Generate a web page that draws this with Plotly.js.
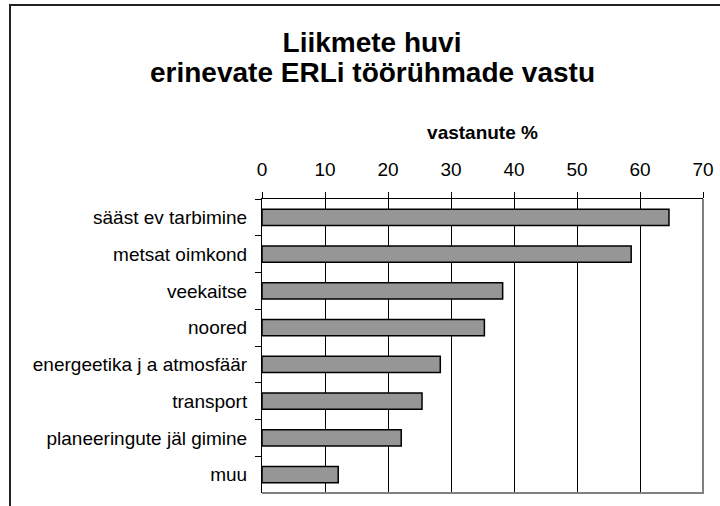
<!DOCTYPE html>
<html>
<head>
<meta charset="utf-8">
<script src="https://cdn.plot.ly/plotly-3.0.1.min.js"></script>
<style>
  html, body { margin: 0; padding: 0; background: #fff; overflow: hidden; }
  #chart { position: absolute; left: 0; top: 0; width: 720px; height: 506px; }
  #frame { position: absolute; left: 9px; top: 4px; width: 800px; height: 700px;
           border: 2px solid #222; pointer-events: none; }
</style>
</head>
<body>
<div id="chart"></div>
<div id="frame"></div>
<script>
const titleLine1 = "Liikmete huvi";
const titleLine2 = "erinevate ERLi töörühmade vastu";
const axisTitle = "vastanute %";
const categories = [
  "sääst ev tarbimine",
  "metsat oimkond",
  "veekaitse",
  "noored",
  "energeetika j a atmosfäär",
  "transport",
  "planeeringute jäl gimine",
  "muu"
];
const values = [64.6, 58.6, 38.2, 35.3, 28.3, 25.4, 22.1, 12.1];
const tickValues = [0, 10, 20, 30, 40, 50, 60, 70];
const tickLabels = ["0", "10", "20", "30", "40", "50", "60", "70"];

const trace = {
  type: "bar",
  orientation: "h",
  y: categories,
  x: values,
  marker: { color: "#969696", line: { color: "#000", width: 1.5 } },
  hoverinfo: "x+y"
};

const layout = {
  width: 720, height: 506,
  margin: { l: 262, r: 17, t: 199, b: 13, pad: 0 },
  paper_bgcolor: "#fff",
  plot_bgcolor: "#fff",
  showlegend: false,
  bargap: 0.56,
  font: { family: "Arial, 'Liberation Sans', sans-serif", color: "#000" },
  title: {
    text: "<b>" + titleLine1 + "</b>",
    font: { size: 28, color: "#000" },
    xref: "container", x: 372 / 720, xanchor: "center",
    yref: "container", y: 1 - 42 / 506, yanchor: "middle"
  },
  annotations: [
    { text: "<b>" + titleLine2 + "</b>", showarrow: false,
      xref: "paper", yref: "paper",
      x: (372 - 262) / 441, y: (493 - 73) / 294,
      xanchor: "center", yanchor: "middle",
      font: { size: 28, color: "#000" } }
  ],
  xaxis: {
    side: "top",
    range: [0, 70],
    tickvals: tickValues,
    ticktext: tickLabels,
    ticks: "outside", ticklen: 6, tickcolor: "#000", tickwidth: 1,
    showline: true, linecolor: "#000", linewidth: 1,
    showgrid: true, gridcolor: "#000", gridwidth: 1,
    zeroline: false,
    tickfont: { size: 19 },
    ticklabelstandoff: 8,
    title: { text: "<b>" + axisTitle + "</b>", font: { size: 19 }, standoff: 14 },
    fixedrange: true
  },
  yaxis: {
    autorange: "reversed",
    type: "category",
    ticks: "outside", ticklen: 6, tickcolor: "#000", tickwidth: 1,
    tickson: "boundaries",
    showline: true, linecolor: "#000", linewidth: 1,
    showgrid: false, zeroline: false,
    tickfont: { size: 19 },
    ticklabelstandoff: 10,
    fixedrange: true
  },
  shapes: [
    { type: "path", xref: "paper", yref: "paper",
      path: "M 1 1 L 1 0 L 0 0", line: { color: "#808080", width: 2 }, layer: "above" }
  ]
};

Plotly.newPlot("chart", [trace], layout, { displayModeBar: false, staticPlot: true });
</script>
</body>
</html>
